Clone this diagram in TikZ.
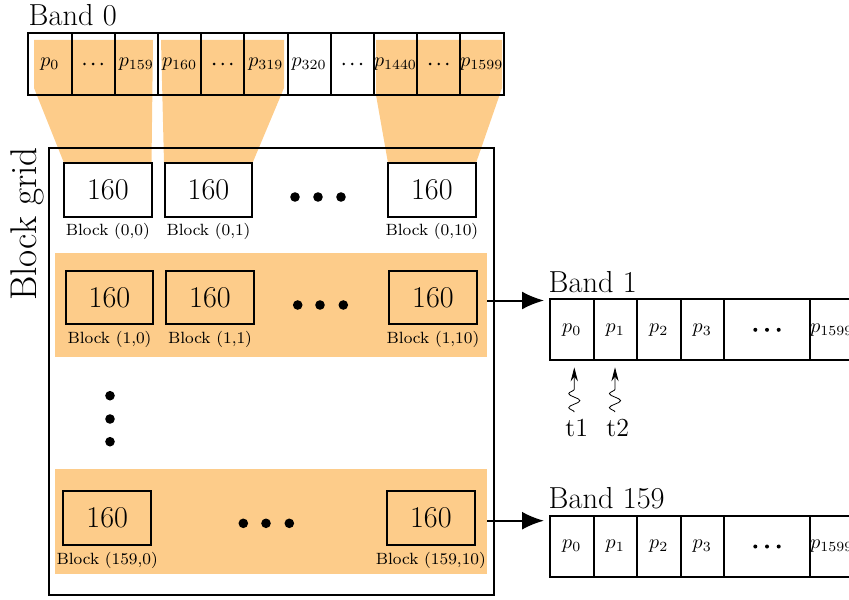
\documentclass[tikz,border=0pt]{standalone}
\usetikzlibrary{arrows.meta,calc,decorations.pathmorphing}
\definecolor{hl}{RGB}{253,204,138}
\begin{document}
\begin{tikzpicture}[x=0.5pt,y=-0.5pt,
  box/.style={draw,line width=1pt,inner sep=0pt,outer sep=0pt},
  bcell/.style={box,minimum width=21.6pt,minimum height=31pt,font=\normalsize},
  rcell/.style={box,minimum width=21.75pt,minimum height=30.5pt,font=\normalsize},
  wcell/.style={box,minimum width=43pt,minimum height=30.5pt},
  blk/.style={box,minimum width=43.8pt,minimum height=26.7pt,font=\fontsize{15.1}{18}\selectfont},
  blbl/.style={font=\fontsize{8.15}{10}\selectfont,inner sep=0pt},
  title/.style={font=\fontsize{15.2}{18}\selectfont,inner sep=0pt,anchor=base west},
  rowband/.style={fill=hl,inner sep=0pt,outer sep=0pt},
  bigdot/.style={fill=black,radius=2.4pt},
  smalldot/.style={fill=black,radius=0.7pt},
  middot/.style={fill=black,radius=1pt},
  arrow/.style={line width=1pt,-{Latex[length=11pt,width=9pt]},shorten >=3pt},
  wavy/.style={-{Stealth[length=7pt,width=3.6pt]},decorate,
    decoration={snake,amplitude=2.8pt,segment length=7pt,post length=8pt}},
  tlbl/.style={font=\fontsize{13}{15}\selectfont,inner sep=0pt,anchor=base}]
\useasboundingbox (0,0) rectangle (849,599);
\clip (0,0) rectangle (849,599);

% shaded pixel ranges of band 0 mapped onto the first-row blocks
\fill[hl] (34,40) -- (153,40) -- (151.5,163) -- (64,163) -- (34,88) -- cycle;
\fill[hl] (161,40) -- (284,40) -- (284,88) -- (252.5,163) -- (164,163) -- cycle;
\fill[hl] (376,40) -- (502,40) -- (502,88) -- (476,163) -- (388,163) -- (376,95) -- cycle;

% shaded block rows
\node[rowband,minimum width=216.15pt,minimum height=52pt] (r1) at (271.15,305.3) {};
\node[rowband,minimum width=216.15pt,minimum height=52.5pt] (r159) at (271.15,521.5) {};

% band 0
\node[title] (band0) at (28.3,25.7) {Band 0};
\foreach \i/\t in {0/{p_{0}},1/{},2/{p_{159}},3/{p_{160}},4/{},5/{p_{319}},
                   6/{p_{320}},7/{},8/{p_{1440}},9/{},10/{p_{1599}}}
  \node[bcell] (a\i) at ({28.3+43.2*(\i+0.5)},64) {$\t$};
\foreach \i in {1,4,7,9}
  \foreach \dx in {-8.6,0,8.6}
    \fill[smalldot] ($(a\i.center)+(\dx,0)$) circle;

% block grid
\node[box,minimum width=222.5pt,minimum height=223.75pt] (grid) at (271,371.25) {};
\node[font=\fontsize{18.6}{20}\selectfont,rotate=90,anchor=base,inner sep=0pt] (gridlbl) at (36,224) {Block grid};

\node[blk] (b00) at (107.85,190) {160};
\node[blk] (b01) at (208.5,190) {160};
\node[blk] (b010) at (431.85,190) {160};
\node[blk] (b10) at (109.5,297.7) {160};
\node[blk] (b11) at (210,297.7) {160};
\node[blk] (b110) at (433,297.7) {160};
\node[blk] (b1590) at (107.2,518) {160};
\node[blk] (b15910) at (430.85,518) {160};

\node[blbl] at ($(b00.south)+(0,15)$) {Block (0,0)};
\node[blbl] at ($(b01.south)+(0,15)$) {Block (0,1)};
\node[blbl] at ($(b010.south)+(0,15)$) {Block (0,10)};
\node[blbl] at ($(b10.south)+(0,15.5)$) {Block (1,0)};
\node[blbl] at ($(b11.south)+(0,15.5)$) {Block (1,1)};
\node[blbl] at ($(b110.south)+(0,15.5)$) {Block (1,10)};
\node[blbl] at ($(b1590.south)+(0,15.7)$) {Block (159,0)};
\node[blbl] at ($(b15910.south)+(0,15.7)$) {Block (159,10)};

% ellipses
\foreach \x in {295,318,341} \fill[bigdot] (\x,197) circle;
\foreach \x in {297.7,320,343.3} \fill[bigdot] (\x,305) circle;
\foreach \y in {395.7,419,441.7} \fill[bigdot] (110,\y) circle;
\foreach \x in {243.3,266,289.3} \fill[bigdot] (\x,523.3) circle;

% band 1
\node[title] (band1) at (548.3,292) {Band 1};
\node[rcell] (c0) at (571.75,329.8) {$p_{0}$};
\node[rcell] (c1) at (615.25,329.8) {$p_{1}$};
\node[rcell] (c2) at (658.75,329.8) {$p_{2}$};
\node[rcell] (c3) at (702.25,329.8) {$p_{3}$};
\node[wcell] (c4) at (767,329.8) {};
\node[rcell] (c5) at (831.75,329.8) {$p_{1599}$};

% band 159
\node[title] (band159) at (548.3,508) {Band 159};
\node[rcell] (d0) at (571.75,546.5) {$p_{0}$};
\node[rcell] (d1) at (615.25,546.5) {$p_{1}$};
\node[rcell] (d2) at (658.75,546.5) {$p_{2}$};
\node[rcell] (d3) at (702.25,546.5) {$p_{3}$};
\node[wcell] (d4) at (767,546.5) {};
\node[rcell] (d5) at (831.75,546.5) {$p_{1599}$};
\foreach \n in {c4,d4}
  \foreach \dx in {-11.7,0,11.7}
    \fill[middot] ($(\n.center)+(\dx,0)$) circle;

% rows feeding the bands
\coordinate (y1) at (0,300.5);
\coordinate (y159) at (0,520.7);
\draw[arrow] (r1.east |- y1) -- (c0.west |- y1);
\draw[arrow] (r159.east |- y159) -- (d0.west |- y159);

% threads
\node[tlbl] (t1) at (576.7,436.7) {t1};
\node[tlbl] (t2) at (617.7,436.7) {t2};
\draw[wavy] ($(t1.north)+(-2.4,-7)$) -- ($(c0.south -| t1.north)+(-2.4,7)$);
\draw[wavy] ($(t2.north)+(-2.7,-7)$) -- ($(c1.south -| t2.north)+(-2.7,7)$);
\end{tikzpicture}
\end{document}
